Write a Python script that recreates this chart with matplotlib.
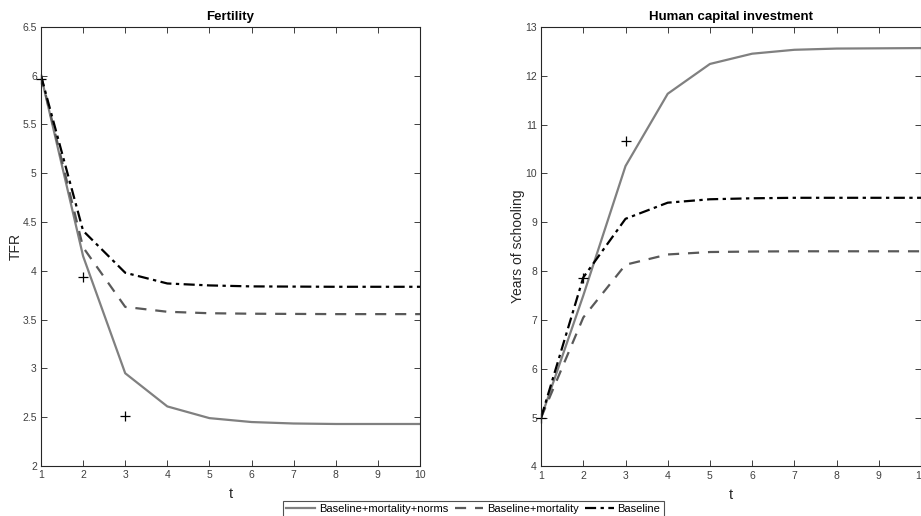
import matplotlib
matplotlib.use('Agg')
import matplotlib.pyplot as plt

plt.rcParams['font.family'] = ['Liberation Sans', 'DejaVu Sans']

t = [1, 2, 3, 4, 5, 6, 7, 8, 9, 10]

# fertility (TFR) by scenario
tfr_norms = [6.0, 4.15, 2.95, 2.61, 2.49, 2.45, 2.435, 2.43, 2.43, 2.43]
tfr_mortality = [6.0, 4.24, 3.63, 3.58, 3.565, 3.56, 3.558, 3.556, 3.556, 3.556]
tfr_baseline = [6.0, 4.41, 3.98, 3.87, 3.85, 3.84, 3.838, 3.836, 3.836, 3.836]

# human capital (years of schooling) by scenario
hc_norms = [5.0, 7.5, 10.15, 11.63, 12.24, 12.45, 12.53, 12.555, 12.56, 12.565]
hc_mortality = [5.0, 7.05, 8.13, 8.34, 8.39, 8.40, 8.405, 8.405, 8.405, 8.405]
hc_baseline = [5.0, 7.87, 9.07, 9.40, 9.47, 9.49, 9.50, 9.50, 9.50, 9.50]

# observed data points
obs_t = [1, 2, 3]
obs_tfr = [5.97, 3.94, 2.51]
obs_hc = [5.0, 7.85, 10.67]

labels = ['Baseline+mortality+norms', 'Baseline+mortality', 'Baseline']
tick_gray = '#3f3f3f'


def style_axes(ax, ylim, yticks, ylabel, title):
    ax.set_xlim(1, 10)
    ax.set_ylim(*ylim)
    ax.set_xticks(t)
    ax.set_yticks(yticks)
    ax.set_yticklabels([f'{v:g}' for v in yticks])
    ax.tick_params(direction='in', top=True, right=True, length=4, width=0.7,
                   labelsize=7.5, colors=tick_gray, labelcolor=tick_gray, pad=3)
    for s in ax.spines.values():
        s.set_color('#262626')
        s.set_linewidth(0.8)
    ax.set_xlabel('t', fontsize=10.5, color='#262626', labelpad=5)
    ax.set_ylabel(ylabel, fontsize=10, color='#262626', labelpad=0)
    ax.set_title(title, fontsize=9.5, fontweight='bold', pad=5)


fig = plt.figure(figsize=(9.21, 5.16), dpi=100)
ax1 = fig.add_axes([0.0445, 0.097, 0.4115, 0.851])
ax2 = fig.add_axes([0.5875, 0.096, 0.4125, 0.852])

ax1.plot(t, tfr_norms, color='#808080', lw=1.6, label=labels[0])
ax1.plot(t, tfr_mortality, color='#595959', lw=1.6, ls=(0, (5, 4)), label=labels[1])
ax1.plot(t, tfr_baseline, color='black', lw=1.6, ls=(0, (5, 2, 1.5, 2)), label=labels[2])
ax1.plot(obs_t, obs_tfr, '+', color='black', ms=7, mew=0.9, clip_on=False)
style_axes(ax1, (2, 6.5), [2, 2.5, 3, 3.5, 4, 4.5, 5, 5.5, 6, 6.5], 'TFR', 'Fertility')

ax2.plot(t, hc_norms, color='#808080', lw=1.6)
ax2.plot(t, hc_mortality, color='#595959', lw=1.6, ls=(0, (5, 4)))
ax2.plot(t, hc_baseline, color='black', lw=1.6, ls=(0, (5, 2, 1.5, 2)))
ax2.plot(obs_t, obs_hc, '+', color='black', ms=7, mew=0.9, clip_on=False)
style_axes(ax2, (4, 13), list(range(4, 14)), 'Years of schooling', 'Human capital investment')

handles, _ = ax1.get_legend_handles_labels()
leg = fig.legend(handles, labels, loc='upper center', bbox_to_anchor=(0.514, 0.029),
                 ncol=3, fontsize=8, frameon=True, fancybox=False, borderpad=0.3,
                 borderaxespad=0, handlelength=2.6, handletextpad=0.3, columnspacing=0.6)
leg.get_frame().set_edgecolor('#262626')
leg.get_frame().set_linewidth(0.8)

fig.savefig('out.png', dpi=100)
